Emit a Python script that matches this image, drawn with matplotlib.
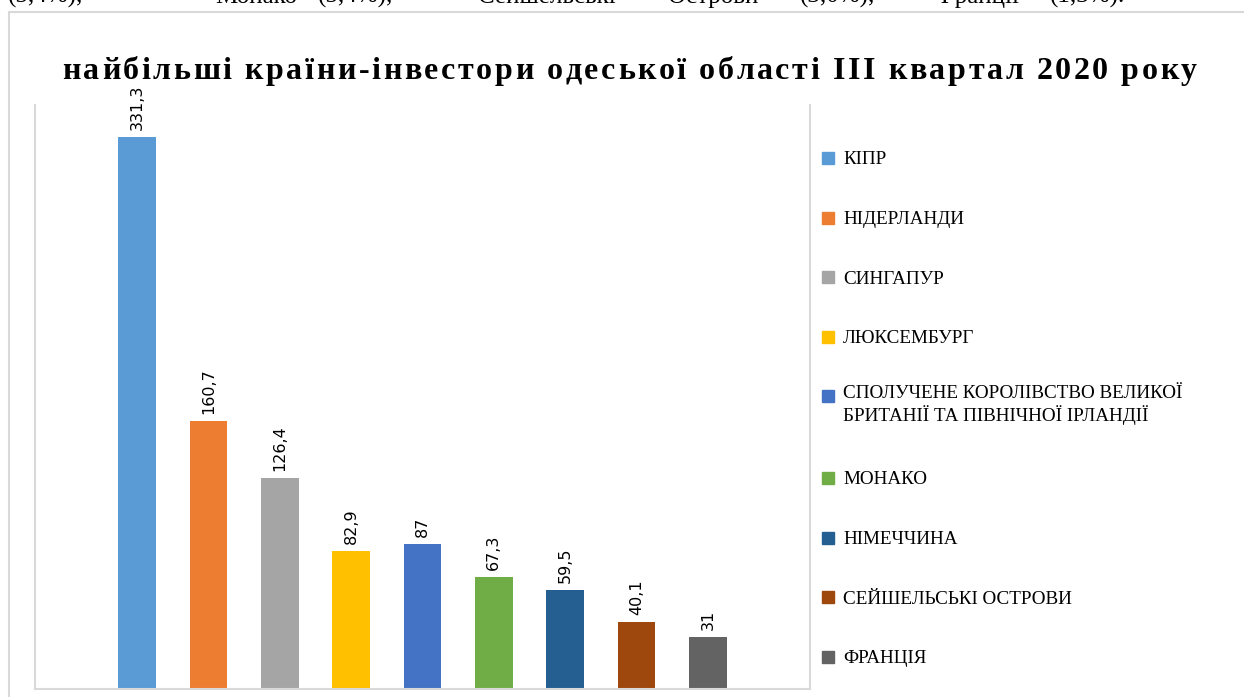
import matplotlib.pyplot as plt
from matplotlib.patches import Rectangle

# дані
countries = ['КІПР', 'НІДЕРЛАНДИ', 'СИНГАПУР', 'ЛЮКСЕМБУРГ',
             'СПОЛУЧЕНЕ КОРОЛІВСТВО ВЕЛИКОЇ\nБРИТАНІЇ ТА ПІВНІЧНОЇ ІРЛАНДІЇ',
             'МОНАКО', 'НІМЕЧЧИНА', 'СЕЙШЕЛЬСЬКІ ОСТРОВИ', 'ФРАНЦІЯ']
values = [331.3, 160.7, 126.4, 82.9, 87, 67.3, 59.5, 40.1, 31]
labels = ['331,3', '160,7', '126,4', '82,9', '87', '67,3', '59,5', '40,1', '31']
colors = ['#5B9BD5', '#ED7D31', '#A5A5A5', '#FFC000', '#4472C4',
          '#70AD47', '#255E91', '#9E480E', '#636363']

title = 'найбільші країни-інвестори одеської області ІІІ квартал 2020 року'
# рядок тексту документа над діаграмою (вирівняний по ширині)
top_words = ['(5,4%),', 'Монако', '(5,4%),', 'Сейшельські', 'Острови',
             '(3,0%),', 'Франції', '(1,3%).']
top_x = [8, 215, 318, 478, 668, 800, 935, 1050]

W, H = 1244, 697
fig = plt.figure(figsize=(W / 100, H / 100), dpi=100)

# рамка діаграми (обрізана краєм картинки)
fig.add_artist(Rectangle((9 / W, -0.5), 2, 0.5 + 1 - 12 / H, transform=fig.transFigure,
                         fill=False, edgecolor='#D9D9D9', lw=1.5))

# від рядка над діаграмою видно тільки низ
for wd, xw in zip(top_words, top_x):
    fig.text(xw / W, 1 - 3 / H, wd, family='Liberation Serif', fontsize=18,
             va='baseline', ha='left')

ax = fig.add_axes([35 / W, 1 - 689 / H, (810 - 35) / W, (689 - 105) / H])
x = list(range(len(values)))
bars = ax.bar(x, values, width=0.53, color=colors)
for b, lab in zip(bars, labels):
    ax.annotate(lab, (b.get_x() + b.get_width() / 2, b.get_height()),
                xytext=(0, 5), textcoords='offset points', rotation=90,
                ha='center', va='bottom', fontsize=11.5, family='DejaVu Sans')

ax.set_xlim(-1.43, 9.43)
ax.set_ylim(0, 350.5)
ax.set_xticks([])
ax.set_yticks([])
ax.spines['top'].set_visible(False)
for s in ['left', 'right', 'bottom']:
    ax.spines[s].set_color('#D9D9D9')
    ax.spines[s].set_linewidth(1.5)

# заголовок з розрідженими літерами
renderer = fig.canvas.get_renderer()
tkw = dict(family='Liberation Serif', fontsize=23, fontweight='bold')


def char_width(ch):
    t1 = fig.text(0, 0, 'n' + ch + 'n', **tkw)
    t2 = fig.text(0, 0, 'nn', **tkw)
    w = t1.get_window_extent(renderer).width - t2.get_window_extent(renderer).width
    t1.remove()
    t2.remove()
    return w


widths = [char_width(c) for c in title]
gap = (1135 - sum(widths)) / (len(title) - 1)
xp = 62
for c, w in zip(title, widths):
    fig.text(xp / W, 1 - 79 / H, c, ha='left', va='baseline', **tkw)
    xp += w + gap

# легенда
ys = [158 + 59.6 * i + (22 if i > 4 else 0) for i in range(len(countries))]
for name, col, y in zip(countries, colors, ys):
    fig.add_artist(Rectangle((822 / W, 1 - (y + 6) / H), 12 / W, 12 / H,
                             transform=fig.transFigure, color=col))
    if '\n' in name:
        fig.text(843 / W, 1 - (y - 11) / H, name, family='Liberation Serif',
                 fontsize=13.8, ha='left', va='top', linespacing=1.15)
    else:
        fig.text(843 / W, 1 - y / H, name, family='Liberation Serif',
                 fontsize=13.8, ha='left', va='center_baseline')

fig.savefig('out.png', dpi=100)
